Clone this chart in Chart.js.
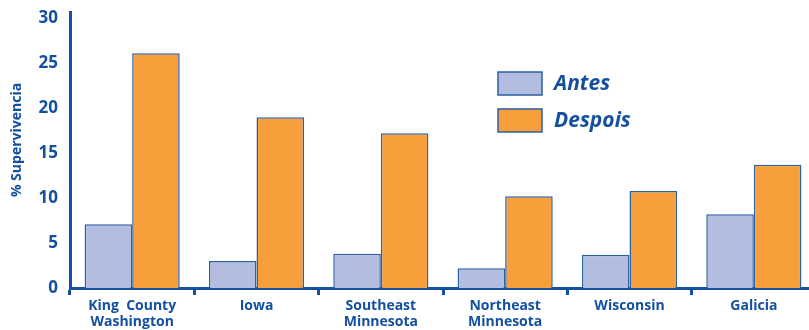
<!DOCTYPE html>
<html>
<head>
<meta charset="utf-8">
<script src="https://cdn.jsdelivr.net/npm/chart.js@4/dist/chart.umd.min.js"></script>
<style>
  html, body { margin:0; padding:0; background:#fff; overflow:hidden; width:809px; height:330px; }
  #wrap { position:relative; width:816px; height:330px; }
</style>
</head>
<body>
<div id="wrap"><canvas id="c" width="816" height="330"></canvas></div>
<script>
const categories = [["King  County","Washington"],"Iowa",["Southeast","Minnesota"],["Northeast","Minnesota"],"Wisconsin","Galicia"];
const antes = [7.1, 3.0, 3.8, 2.2, 3.7, 8.2];
const despois = [26.1, 19.0, 17.2, 10.2, 10.8, 13.7];
const seriesLabels = ["Antes","Despois"];
const yTicks = [0,5,10,15,20,25,30];
const yTitle = "% Supervivencia";

const BLUE = "#1450a0";
const FONT = "'Open Sans', 'DejaVu Sans', sans-serif";

const overlayPlugin = {
  id: 'overlay',
  afterDraw(chart) {
    const ctx = chart.ctx;
    ctx.save();
    ctx.fillStyle = BLUE;
    ctx.font = "bold 14px " + FONT;
    ctx.textAlign = "center";
    ctx.textBaseline = "middle";
    ctx.translate(17, 140);
    ctx.rotate(-Math.PI/2);
    ctx.fillText(yTitle, 0, 0);
    ctx.restore();
    ctx.save();
    const ds = chart.data.datasets;
    const bx = 498, by = [72, 109], bw = 44, bh = 23;
    ds.forEach((d, i) => {
      ctx.fillStyle = d.backgroundColor;
      ctx.fillRect(bx, by[i], bw, bh);
      ctx.strokeStyle = "#2d5fa6";
      ctx.lineWidth = 1.5;
      ctx.strokeRect(bx, by[i], bw, bh);
      ctx.fillStyle = BLUE;
      ctx.font = "italic bold 21px " + FONT;
      ctx.textAlign = "left";
      ctx.textBaseline = "middle";
      ctx.fillText(d.label, 554, by[i] + bh/2 + 1);
    });
    ctx.restore();
  }
};

new Chart(document.getElementById('c'), {
  type: 'bar',
  data: {
    labels: categories,
    datasets: [
      { label: seriesLabels[0], data: antes, backgroundColor: "#b3bde0", borderColor: "#2d5fa6", borderWidth: 1.5 },
      { label: seriesLabels[1], data: despois, backgroundColor: "#f79f3a", borderColor: "#2d5fa6", borderWidth: 1.5 }
    ]
  },
  options: {
    responsive: false,
    animation: false,
    devicePixelRatio: 1,
    layout: { padding: { top: 12, left: 0, right: 0, bottom: 0 } },
    datasets: { bar: { barPercentage: 1, categoryPercentage: 0.765 } },
    plugins: { legend: { display: false }, tooltip: { enabled: false } },
    scales: {
      x: {
        grid: { display: true, drawOnChartArea: false, drawTicks: true, tickLength: 7, tickWidth: 3, color: BLUE, offset: true },
        border: { display: true, color: BLUE, width: 3 },
        ticks: { color: BLUE, font: { family: FONT, size: 14, weight: 'bold', lineHeight: 1.15 }, padding: 3, maxRotation: 0, autoSkip: false },
        afterFit(s) { s.height = 42; s.paddingLeft = 0; s.paddingRight = 0; }
      },
      y: {
        min: 0, max: 30.7,
        grid: { display: false },
        border: { display: true, color: BLUE, width: 3 },
        ticks: { color: BLUE, font: { family: FONT, size: 17, weight: 'bold' }, padding: 4, stepSize: 5 },
        afterBuildTicks(s) { s.ticks = yTicks.map(v => ({ value: v })); },
        afterFit(s) { s.width = 70; s.paddingTop = 0; s.paddingBottom = 0; }
      }
    }
  },
  plugins: [overlayPlugin]
});
</script>
</body>
</html>
